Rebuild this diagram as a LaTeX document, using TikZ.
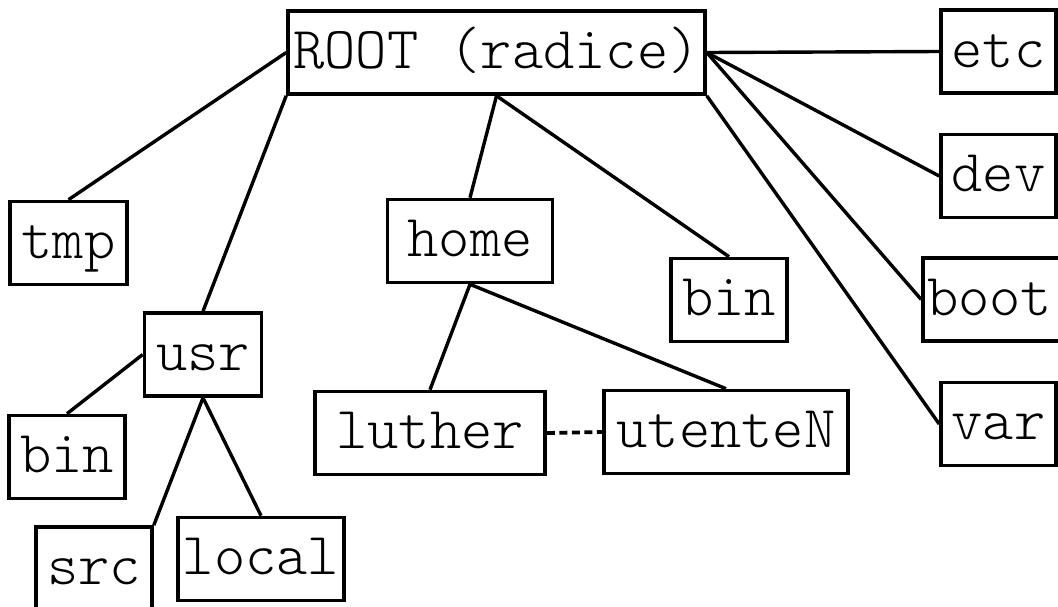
\documentclass[tikz,border=0pt]{standalone}
\usepackage{fontspec}
\setmonofont{Latin Modern Mono Light}
\begin{document}
\begin{tikzpicture}[x=1pt,y=-1pt,
  dirbox/.style={draw, line width=3.6pt, rectangle, inner xsep=0pt, inner ysep=0pt,
    text height=57pt, text depth=26pt, font=\fontsize{59.5}{66}\selectfont\ttfamily},
  link/.style={line width=3.4pt},
  peerlink/.style={line width=3.8pt, dash pattern=on 8pt off 4.5pt}]
\useasboundingbox (0,0) rectangle (1058,606);
\clip (0,0) rectangle (1058,606);

% top-level directory and its children
\node[dirbox, minimum width=417pt] (root) at (496.5,52.5) {ROOT (radice)};
\node[dirbox, minimum width=115pt] (etc) at (998.5,51.5) {etc};
\node[dirbox, minimum width=115pt] (dev) at (998.5,176) {dev};
\node[dirbox, minimum width=145pt, text width=137pt, align=left] (boot) at (995.5,299.5) {boot};
\node[dirbox, minimum width=115pt] (var) at (998.5,424) {var};
\node[dirbox, minimum width=117pt] (tmp) at (68.5,243) {tmp};
\node[dirbox, minimum width=165pt] (home) at (470,241) {home};
\node[dirbox, minimum width=116pt] (binr) at (729,300) {bin};
\node[dirbox, minimum width=117pt] (usr) at (203,354.5) {usr};

% inside usr
\node[dirbox, minimum width=116pt] (binl) at (67,457) {bin};
\node[dirbox, minimum width=116pt] (src) at (94,568.5) {src};
\node[dirbox, minimum width=166pt] (local) at (261,559) {local};

% inside home
\node[dirbox, minimum width=230pt] (luther) at (430,433) {luther};
\node[dirbox, minimum width=244pt] (utente) at (726,432) {utenteN};

% tree links
\draw[link] (root.west) -- (tmp.north);
\draw[link] (root.south west) -- (usr.north);
\draw[link] (root.south) -- (home.north);
\draw[link] (root.south) -- (binr.north);
\draw[link] (root.east) -- (etc.west);
\draw[link] (root.east) -- (dev.west);
\draw[link] (root.east) -- (boot.west);
\draw[link] (root.south east) -- (var.west);
\draw[link] (usr.west) -- (binl.north);
\draw[link] (usr.south) -- (src.north east);
\draw[link] (usr.south) -- (local.north);
\draw[link] (home.south) -- (luther.north);
\draw[link] (home.south) -- (utente.north);
\draw[peerlink] (luther.east) -- (utente.west);
\end{tikzpicture}
\end{document}
